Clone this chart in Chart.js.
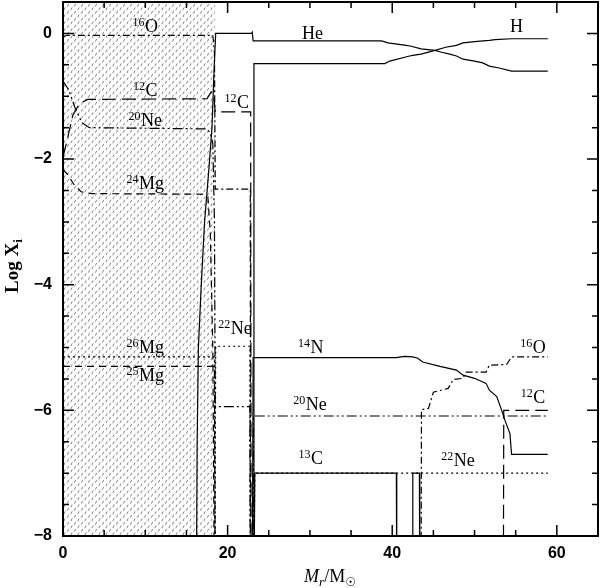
<!DOCTYPE html>
<html>
<head>
<meta charset="utf-8">
<script src="https://cdn.jsdelivr.net/npm/chart.js@4"></script>
<style>
  html, body { margin: 0; padding: 0; background: #fff; }
</style>
</head>
<body>
<canvas id="abund" width="600" height="588"></canvas>
<script>
// axis ticks
const xTicks = [0, 20, 40, 60];
const yTicks = [-8, -6, -4, -2, 0];

// convective core (hatched), in Mr/Msun
const coreEdge = [0, 18.5];

// abundance profiles, [Mr, log X]
const o16 = [[0, -0.05], [0.5, -0.03], [18.2, -0.03], [18.4, -0.3], [18.5, -2.48], [22.75, -2.48], [22.8, -9]];
const c12 = [[0, -1.97], [0.5, -1.7], [1.2, -1.3], [2, -1.12], [3, -1.05], [17.5, -1.04], [18.0, -0.93],
  [18.3, -0.98], [18.5, -1.25], [22.8, -1.25], [22.85, -9]];
const ne20 = [[0, -0.76], [0.7, -0.9], [1.5, -1.2], [2.3, -1.42], [3.2, -1.5], [17.4, -1.52], [17.9, -1.58],
  [18.2, -1.75], [18.4, -3], [18.5, -5.94], [22.7, -5.94], [22.75, -9]];
const mg24 = [[0, -2.17], [0.6, -2.25], [1.3, -2.4], [2.2, -2.52], [3.5, -2.55], [17, -2.56], [17.6, -2.6],
  [17.9, -3.2], [18.2, -5], [18.4, -9]];
const mg26 = [[0, -5.15], [18.4, -5.15], [18.5, -9]];
const mg25 = [[0, -5.3], [18.4, -5.3], [18.5, -9]];
const he4 = [[16.2, -9], [16.3, -6.5], [16.45, -5], [16.8, -4], [17.2, -3], [17.7, -2.2], [18.1, -1.5],
  [18.35, -0.6], [18.55, 0], [22.9, 0], [23.0, 0.02], [23.1, -0.12], [38.7, -0.12], [39.5, -0.15],
  [41.7, -0.19], [42.2, -0.2], [43.5, -0.245], [45.2, -0.27], [46, -0.3], [47, -0.33], [47.8, -0.36],
  [48.6, -0.41], [50, -0.44], [51, -0.47], [51.8, -0.52], [53, -0.55], [54.5, -0.6], [58.9, -0.6]];
const h1 = [[23.15, -9], [23.2, -0.48], [39.1, -0.48], [39.7, -0.44], [42.1, -0.36], [42.5, -0.35],
  [43.5, -0.33], [45.2, -0.27], [46.5, -0.22], [47.8, -0.19], [48.6, -0.15], [50, -0.13], [51.8, -0.11],
  [52.5, -0.1], [54.5, -0.085], [58.9, -0.085]];
const ne22 = [[18.45, -9], [18.55, -4.98], [22.7, -4.98], [22.75, -9], [23.2, -9], [23.3, -7], [58.9, -7]];
const n14 = [[23.0, -9], [23.1, -5.16], [40.5, -5.16], [41.5, -5.14], [42.5, -5.15], [43.1, -5.17],
  [43.7, -5.23], [45.8, -5.3], [47.8, -5.36], [48.6, -5.44], [50, -5.49], [51.4, -5.57], [51.8, -5.68],
  [52.7, -5.78], [53.3, -6.0], [53.7, -6.16], [54.3, -6.37], [54.5, -6.7], [58.9, -6.7]];
const o16Env = [[43.5, -9], [43.55, -5.99], [44.4, -5.97], [45.0, -5.71], [46.8, -5.65], [47.4, -5.51],
  [48.6, -5.49], [49, -5.39], [51.4, -5.39], [51.8, -5.28], [53.9, -5.27], [54.5, -5.15], [58.9, -5.15]];
const c12Env = [[53.5, -9], [53.55, -6.0], [58.9, -6.0]];
const ne20Env = [[23.1, -9], [23.15, -6.09], [58.9, -6.09]];
const c13 = [[23.2, -9], [23.3, -7], [40.5, -7], [40.55, -9], [42.45, -9], [42.5, -7], [43.3, -7], [43.35, -9]];

// species labels: [mass number, element, Mr, log X of baseline]
const labelSpots = [
  ["16", "O", 10.0, 0.03], ["12", "C", 10.0, -0.99], ["20", "Ne", 10.0, -1.48], ["24", "Mg", 10.0, -2.48],
  ["26", "Mg", 10.0, -5.09], ["25", "Mg", 10.0, -5.54], ["12", "C", 21.1, -1.18], ["", "He", 30.3, -0.085],
  ["", "H", 55.1, 0.02], ["22", "Ne", 20.9, -4.79], ["14", "N", 30.1, -5.09], ["16", "O", 57.1, -5.08],
  ["20", "Ne", 30.0, -5.99], ["12", "C", 57.1, -5.89], ["13", "C", 30.1, -6.86], ["22", "Ne", 48.0, -6.89]
];

const canvas = document.getElementById("abund");
const ctx = canvas.getContext("2d");

function hatchPattern() {
  const tile = document.createElement("canvas");
  tile.width = 7;
  tile.height = 7;
  const g = tile.getContext("2d");
  g.strokeStyle = "#777";
  g.lineWidth = 0.9;
  g.beginPath();
  g.moveTo(0.8, 3.2);
  g.lineTo(2.2, 0.4);
  g.moveTo(4.3, 6.7);
  g.lineTo(5.7, 3.9);
  g.stroke();
  return ctx.createPattern(tile, "repeat");
}

const toPts = (arr) => arr.map((p) => ({ x: p[0], y: p[1] }));

const DASH_DOT = [7, 3, 2, 3];
const LONG_DASH = [14, 6];
const DASH_DOTS = [10, 3, 2, 3, 2, 3];
const DASH = [7, 5];
const DOTS = [2, 3];

function profile(arr, dash) {
  return {
    data: toPts(arr),
    showLine: true,
    borderColor: "#000",
    borderWidth: 1.2,
    borderDash: dash,
    pointRadius: 0,
    tension: 0,
    fill: false,
    order: 0,
  };
}

const decorations = {
  id: "decorations",
  afterDraw(chart) {
    const { ctx, chartArea: a, scales } = chart;
    const x = scales.x;
    const y = scales.y;
    ctx.save();
    ctx.strokeStyle = "#000";
    ctx.lineWidth = 1.5;
    ctx.beginPath();
    for (let v = 5; v < 65; v += 5) {
      const px = x.getPixelForValue(v);
      const len = v % 20 === 0 ? 11 : 6;
      ctx.moveTo(px, a.bottom);
      ctx.lineTo(px, a.bottom - len);
      ctx.moveTo(px, a.top);
      ctx.lineTo(px, a.top + len);
    }
    for (let v = -7.5; v <= 0.5; v += 0.5) {
      const py = y.getPixelForValue(v);
      const len = v % 2 === 0 ? 11 : 6;
      ctx.moveTo(a.left, py);
      ctx.lineTo(a.left + len, py);
      ctx.moveTo(a.right, py);
      ctx.lineTo(a.right - len, py);
    }
    ctx.stroke();
    ctx.lineWidth = 2;
    ctx.strokeRect(a.left, a.top, a.width, a.height);

    // species labels
    ctx.fillStyle = "#000";
    ctx.textBaseline = "alphabetic";
    labelSpots.forEach(([mass, el, mx, ly]) => {
      ctx.font = "12px 'Liberation Serif'";
      const w1 = mass ? ctx.measureText(mass).width + 0.5 : 0;
      ctx.font = "18px 'Liberation Serif'";
      const w2 = ctx.measureText(el).width;
      const left = x.getPixelForValue(mx) - (w1 + w2) / 2;
      const base = y.getPixelForValue(ly);
      if (mass) {
        ctx.font = "12px 'Liberation Serif'";
        ctx.fillText(mass, left, base - 6);
      }
      ctx.font = "18px 'Liberation Serif'";
      ctx.fillText(el, left + w1, base);
    });

    // x axis title: Mr / M_sun
    const xt = [
      ["M", "italic 18px 'Liberation Serif'", 0],
      ["r", "italic 13px 'Liberation Serif'", 4],
      ["/M", "18px 'Liberation Serif'", 0],
      ["\u2609", "12px 'DejaVu Sans'", 4],
    ];
    let total = 0;
    xt.forEach((p) => { ctx.font = p[1]; total += ctx.measureText(p[0]).width; });
    let cx = 330 - total / 2;
    xt.forEach((p) => {
      ctx.font = p[1];
      ctx.fillText(p[0], cx, 582 + p[2]);
      cx += ctx.measureText(p[0]).width;
    });

    // y axis title: Log X_i
    ctx.translate(18, 266);
    ctx.rotate(-Math.PI / 2);
    ctx.font = "bold 19px 'Liberation Serif'";
    const wMain = ctx.measureText("Log X").width;
    ctx.font = "bold 13px 'Liberation Serif'";
    const wSub = ctx.measureText("i").width;
    const sx = -(wMain + wSub) / 2;
    ctx.font = "bold 19px 'Liberation Serif'";
    ctx.fillText("Log X", sx, 0);
    ctx.font = "bold 13px 'Liberation Serif'";
    ctx.fillText("i", sx + wMain, 4);
    ctx.restore();
  },
};

const tickFont = { family: "'Liberation Sans'", size: 16, weight: "bold" };

new Chart(ctx, {
  type: "scatter",
  data: {
    datasets: [
      {
        data: toPts([[coreEdge[0], 0.5], [coreEdge[1], 0.5]]),
        showLine: true,
        borderWidth: 0,
        pointRadius: 0,
        backgroundColor: hatchPattern(),
        fill: "start",
        order: 10,
      },
      profile(o16, DASH_DOT),
      profile(c12, LONG_DASH),
      profile(ne20, DASH_DOTS),
      profile(mg24, DASH),
      profile(mg26, DOTS),
      profile(mg25, DASH),
      profile(he4, []),
      profile(h1, []),
      profile(ne22, DOTS),
      profile(n14, []),
      profile(o16Env, DASH_DOT),
      profile(c12Env, LONG_DASH),
      profile(ne20Env, DASH_DOTS),
      profile(c13, []),
    ],
  },
  options: {
    responsive: false,
    animation: false,
    devicePixelRatio: 1,
    layout: { padding: { top: 2, right: 2, left: 0, bottom: 0 } },
    plugins: { legend: { display: false }, tooltip: { enabled: false } },
    scales: {
      x: {
        type: "linear",
        min: 0,
        max: 65,
        grid: { display: false, drawTicks: false },
        border: { display: false },
        afterBuildTicks: (s) => { s.ticks = xTicks.map((v) => ({ value: v })); },
        afterFit: (s) => { s.height = 52; s.paddingLeft = 0; s.paddingRight = 0; },
        ticks: { font: tickFont, color: "#000", padding: 8, maxRotation: 0 },
      },
      y: {
        type: "linear",
        min: -8,
        max: 0.5,
        grid: { display: false, drawTicks: false },
        border: { display: false },
        afterBuildTicks: (s) => { s.ticks = yTicks.map((v) => ({ value: v })); },
        afterFit: (s) => { s.width = 63; s.paddingTop = 0; s.paddingBottom = 0; },
        ticks: {
          font: tickFont,
          color: "#000",
          padding: 11,
          callback: (v) => (v < 0 ? "\u2212" + Math.abs(v) : String(v)),
        },
      },
    },
  },
  plugins: [decorations],
});
</script>
</body>
</html>
